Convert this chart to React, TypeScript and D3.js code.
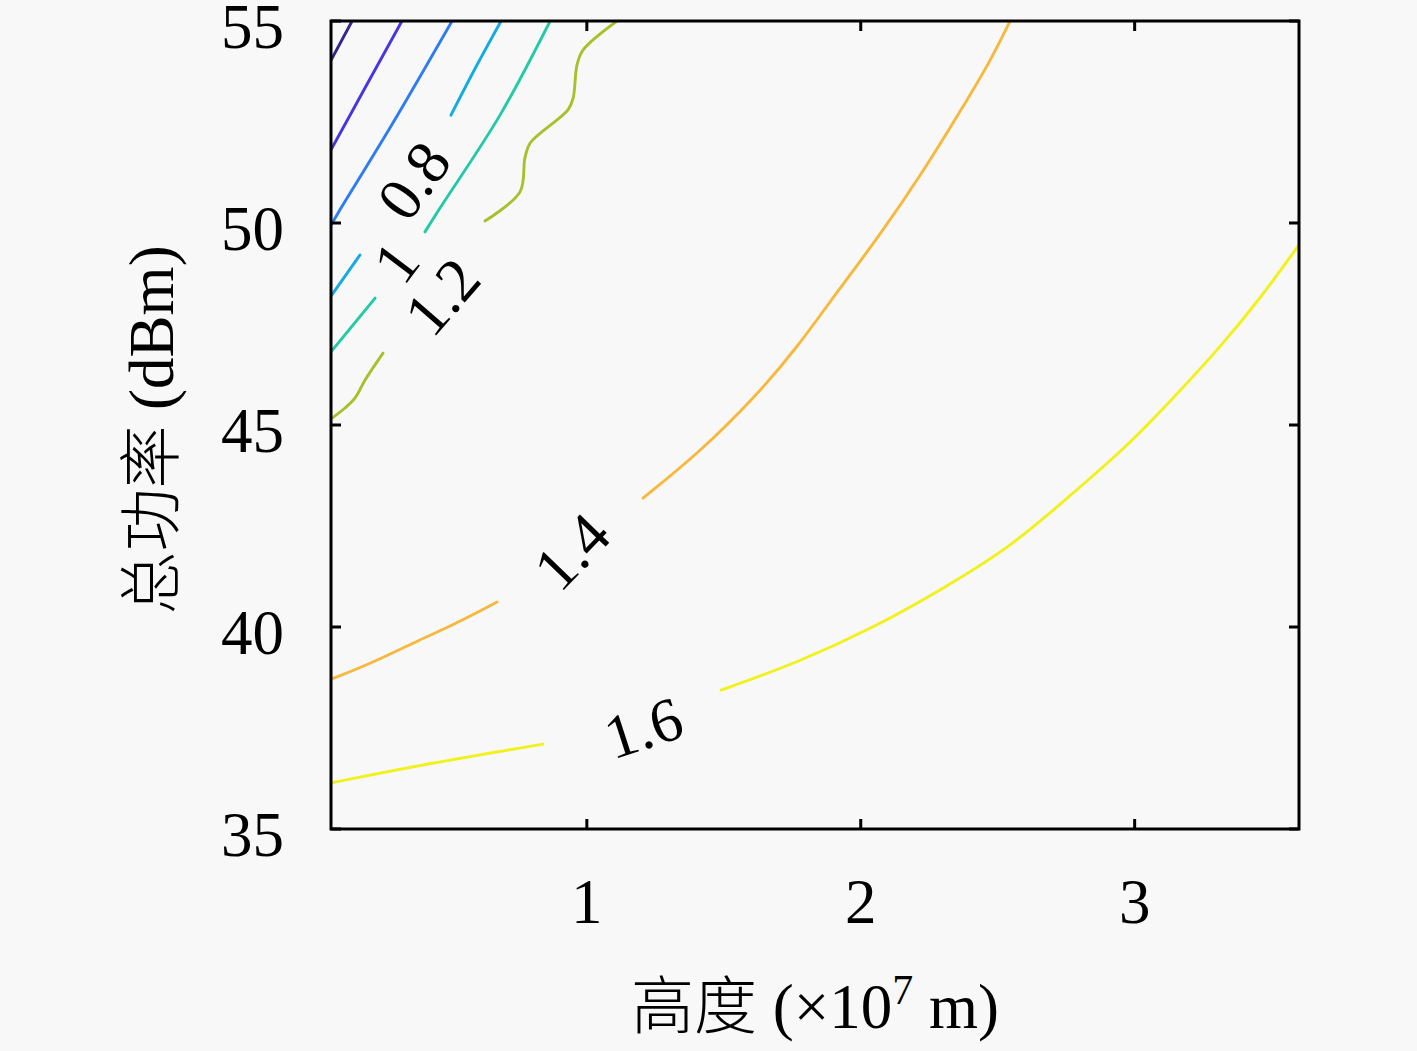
import * as d3 from 'd3';

// contour levels and their parula-like colours
const levels = [0.2, 0.4, 0.6, 0.8, 1.0, 1.2, 1.4, 1.6];
const levelColors = ['#33278f', '#4536e2', '#2d7cf2', '#14abe2', '#24c9a6', '#a9c02a', '#f7b83e', '#f1f11c'];

// contour pieces as [height (x1e7 m), total power (dBm)], broken where the inline labels sit
const level02 = [[[0.066, 54.03], [0.143, 55]]];
const level04 = [[[0.066, 51.81], [0.194, 53.39], [0.325, 55]]];
const level06 = [[[0.066, 49.95], [0.092, 50.25], [0.288, 52.43], [0.508, 55]]];
const level08 = [
  [[0.066, 48.19], [0.172, 49.21]],
  [[0.504, 52.67], [0.595, 53.86], [0.687, 55]],
];
const level10 = [
  [[0.066, 46.81], [0.227, 48.14]],
  [[0.409, 49.78], [0.464, 50.37], [0.683, 52.67], [0.866, 55]],
];
const level12 = [
  [[0.066, 45.15], [0.117, 45.42], [0.154, 45.67], [0.19, 46.11], [0.256, 46.78]],
  [
    [0.628, 50.05], [0.756, 50.77], [0.774, 51.61], [0.793, 51.98], [0.931, 52.8],
    [0.95, 53.09], [0.964, 53.91], [0.986, 54.28], [1.11, 55],
  ],
];
const level14 = [
  [[0.066, 38.71], [0.183, 39.01], [0.365, 39.6], [0.548, 40.17], [0.672, 40.62]],
  [
    [1.205, 43.19], [1.413, 44.33], [1.621, 45.74], [1.767, 46.91], [1.924, 48.39],
    [2.07, 49.7], [2.227, 51.26], [2.362, 52.75], [2.472, 53.99], [2.545, 55],
  ],
];
const level16 = [
  [[0.066, 36.14], [0.427, 36.63], [0.84, 37.1]],
  [
    [1.49, 38.44], [1.767, 39.11], [2.052, 40.0], [2.293, 40.92], [2.549, 41.98], [2.775, 43.32],
    [2.972, 44.46], [3.169, 45.87], [3.312, 46.93], [3.454, 48.09], [3.6, 49.46],
  ],
];
const contourPieces = [level02, level04, level06, level08, level10, level12, level14, level16];

// inline labels: text, anchor in data units, rotation along the contour (deg)
const contourLabels = [
  { text: '0.8', x: 0.368, y: 51.05, angle: -54 },
  { text: '1', x: 0.303, y: 49.03, angle: -53 },
  { text: '1.2', x: 0.471, y: 48.18, angle: -49 },
  { text: '1.4', x: 0.945, y: 41.87, angle: -46 },
  { text: '1.6', x: 1.206, y: 37.51, angle: -18 },
];

const xTicks = [1, 2, 3];
const yTicks = [35, 40, 45, 50, 55];

const W = 1417;
const H = 1051;
const left = 331;
const right = 1299;
const top = 21;
const bottom = 829;
const serif = "'Liberation Serif', 'Noto Sans CJK SC', serif";

export default function App() {
  const x = d3.scaleLinear().domain([0.066, 3.6]).range([left, right]);
  const y = d3.scaleLinear().domain([35, 55]).range([bottom, top]);
  const wiggly = d3
    .line<number[]>()
    .x((d) => x(d[0]))
    .y((d) => y(d[1]))
    .curve(d3.curveCatmullRom.alpha(0.5));
  // the long outer contours are smooth, so let a B-spline even out reading noise
  const smooth = d3
    .line<number[]>()
    .x((d) => x(d[0]))
    .y((d) => y(d[1]))
    .curve(d3.curveBasis);

  const tickLen = 10;
  const axisW = 3;

  return (
    <svg
      width={W}
      height={H}
      style={{ position: 'absolute', left: 0, top: 0, background: '#f8f8f8' }}
    >
      <defs>
        <clipPath id="plotArea">
          <rect x={left} y={top} width={right - left} height={bottom - top} />
        </clipPath>
      </defs>

      <g clipPath="url(#plotArea)">
        {contourPieces.map((pieces, li) =>
          pieces.map((seg, si) => (
            <path
              key={`${levels[li]}-${si}`}
              d={(levels[li] >= 1.4 ? smooth(seg) : wiggly(seg)) ?? ''}
              fill="none"
              stroke={levelColors[li]}
              strokeWidth={2.9}
              strokeLinejoin="round"
              strokeLinecap="round"
            />
          ))
        )}
      </g>

      {contourLabels.map((l) => (
        <text
          key={l.text}
          transform={`translate(${x(l.x)},${y(l.y)}) rotate(${l.angle})`}
          textAnchor="middle"
          dy="0.34em"
          fontFamily={serif}
          fontSize={62}
          fill="#000"
        >
          {l.text}
        </text>
      ))}

      {/* frame */}
      <rect
        x={left}
        y={top}
        width={right - left}
        height={bottom - top}
        fill="none"
        stroke="#000"
        strokeWidth={axisW}
      />

      {/* x ticks, bottom and top, pointing inward */}
      {xTicks.map((t) => (
        <g key={`xt${t}`}>
          <line x1={x(t)} x2={x(t)} y1={bottom} y2={bottom - tickLen} stroke="#000" strokeWidth={axisW} />
          <line x1={x(t)} x2={x(t)} y1={top} y2={top + tickLen} stroke="#000" strokeWidth={axisW} />
          <text
            x={x(t)}
            y={bottom + 94}
            textAnchor="middle"
            fontFamily={serif}
            fontSize={63}
          >
            {t}
          </text>
        </g>
      ))}

      {/* y ticks, left and right */}
      {yTicks.map((t) => (
        <g key={`yt${t}`}>
          <line x1={left} x2={left + tickLen} y1={y(t)} y2={y(t)} stroke="#000" strokeWidth={axisW} />
          <line x1={right} x2={right - tickLen} y1={y(t)} y2={y(t)} stroke="#000" strokeWidth={axisW} />
          <text
            x={284}
            y={y(t) + 27}
            textAnchor="end"
            fontFamily={serif}
            fontSize={63}
          >
            {t}
          </text>
        </g>
      ))}

      {/* axis titles */}
      <text
        x={(left + right) / 2}
        y={1028}
        textAnchor="middle"
        fontFamily={serif}
        fontSize={63}
      >
        <tspan fontWeight={300}>高度</tspan>
        <tspan> (×10</tspan>
        <tspan fontSize={42} dy={-24}>7</tspan>
        <tspan dy={24}> m)</tspan>
      </text>

      <text
        transform={`translate(173,${(top + bottom) / 2 + 5}) rotate(-90)`}
        textAnchor="middle"
        fontFamily={serif}
        fontSize={63}
      >
        <tspan fontWeight={300}>总功率</tspan>
        <tspan> (dBm)</tspan>
      </text>
    </svg>
  );
}
